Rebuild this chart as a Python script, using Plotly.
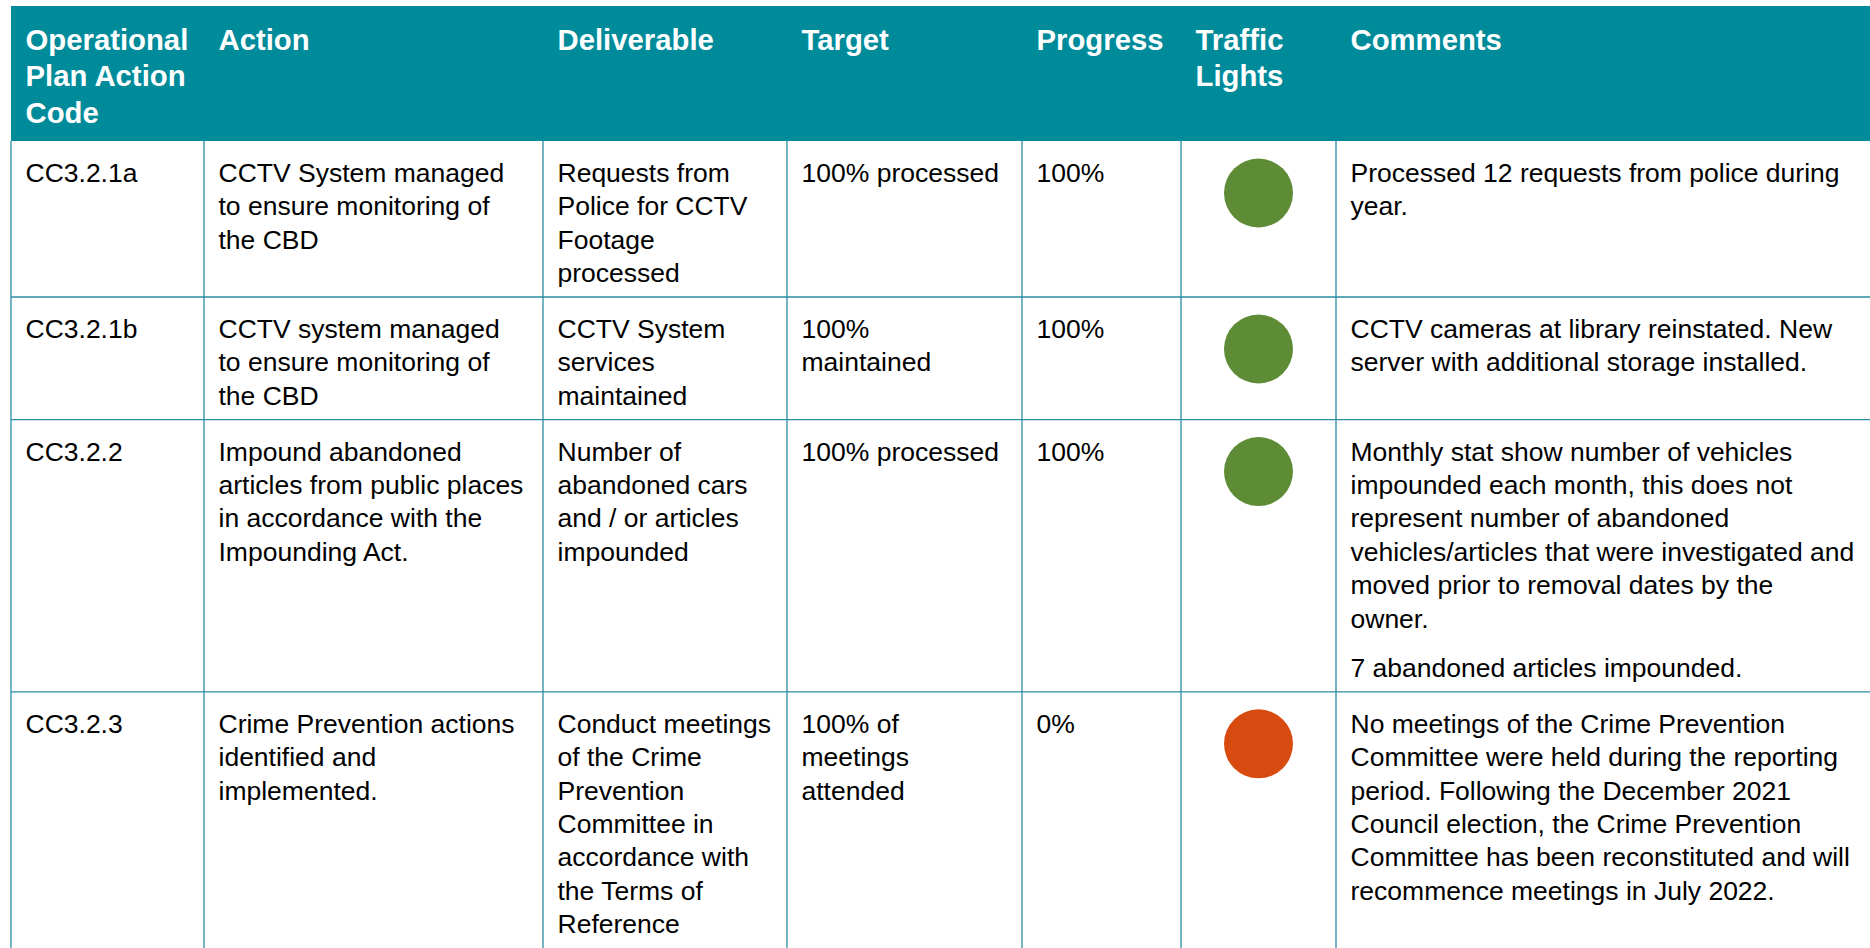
import plotly.graph_objects as go

# ---------------- data ----------------
headers = ["Operational<br>Plan Action<br>Code", "Action", "Deliverable", "Target",
           "Progress", "Traffic<br>Lights", "Comments"]
codes = ["CC3.2.1a", "CC3.2.1b", "CC3.2.2", "CC3.2.3"]
actions = [
    "CCTV System managed<br>to ensure monitoring of<br>the CBD",
    "CCTV system managed<br>to ensure monitoring of<br>the CBD",
    "Impound abandoned<br>articles from public places<br>in accordance with the<br>Impounding Act.",
    "Crime Prevention actions<br>identified and<br>implemented.",
]
deliverables = [
    "Requests from<br>Police for CCTV<br>Footage<br>processed",
    "CCTV System<br>services<br>maintained",
    "Number of<br>abandoned cars<br>and / or articles<br>impounded",
    "Conduct meetings<br>of the Crime<br>Prevention<br>Committee in<br>accordance with<br>the Terms of<br>Reference",
]
targets = ["100% processed", "100%<br>maintained", "100% processed",
           "100% of<br>meetings<br>attended"]
progress = ["100%", "100%", "100%", "0%"]
traffic = ["Green", "Green", "Green", "Red"]
# paragraphs separated by "\n", lines by "<br>"
comments = [
    "Processed 12 requests from police during<br>year.",
    "CCTV cameras at library reinstated. New<br>server with additional storage installed.",
    "Monthly stat show number of vehicles<br>impounded each month, this does not<br>represent number of abandoned<br>vehicles/articles that were investigated and<br>moved prior to removal dates by the<br>owner.\n7 abandoned articles impounded.",
    "No meetings of the Crime Prevention<br>Committee were held during the reporting<br>period. Following the December 2021<br>Council election, the Crime Prevention<br>Committee has been reconstituted and will<br>recommence meetings in July 2022.",
]

# ---------------- layout constants ----------------
W, H = 1870, 948
COL_EDGES = [11, 204, 543, 787, 1022, 1181, 1336, W]
HEAD_TOP, HEAD_BOT = 6, 141
PAD_X = 14.5
BODY_FS, HEAD_FS = 26.5, 29.3
BODY_LH, HEAD_LH = 33.4, 36.4
ROW_PAD = 22.4
PARA_GAP = 16
FIRST_BASE = 41
HEAD_BASE = 44
LIGHT_OFF = 52
TEAL = "#008b9b"
LINE = "#2a8ca2"
LIGHT_COLORS = {"Green": "#5e8c36", "Red": "#d84b10"}
FONT = "Liberation Sans, Arial, sans-serif"

text_cols = [codes, actions, deliverables, targets, progress, None, comments]


def cell_lines(s):
    """returns list of (line, n_para_gaps_before)"""
    out = []
    for pi, para in enumerate(s.split("\n")):
        for ln in para.split("<br>"):
            out.append((ln, pi))
    return out


# row heights from content
row_tops = []
y = HEAD_BOT
for r in range(len(codes)):
    nmax = 0
    for col in text_cols:
        if col is None:
            continue
        lines = cell_lines(col[r])
        h = len(lines) * BODY_LH + lines[-1][1] * PARA_GAP
        nmax = max(nmax, h)
    row_tops.append(y)
    y += ROW_PAD + nmax
row_bots = row_tops[1:] + [y]

fig = go.Figure()

shapes = []
# header band
shapes.append(dict(type="rect", xref="x", yref="y", x0=COL_EDGES[0], x1=COL_EDGES[-1],
                   y0=HEAD_TOP, y1=HEAD_BOT, fillcolor=TEAL, line=dict(width=0), layer="below"))
# vertical lines
for xe in COL_EDGES[:-1]:
    shapes.append(dict(type="line", xref="x", yref="y", x0=xe, x1=xe, y0=HEAD_BOT, y1=H + 50,
                       line=dict(color=LINE, width=1.3)))
# horizontal row lines (last row continues past the page)
for yb in row_bots[:-1]:
    shapes.append(dict(type="line", xref="x", yref="y", x0=COL_EDGES[0], x1=COL_EDGES[-1],
                       y0=yb, y1=yb, line=dict(color=LINE, width=1.3)))

# header text
hx, hy, ht = [], [], []
for c, htxt in enumerate(headers):
    for i, ln in enumerate(htxt.split("<br>")):
        hx.append(COL_EDGES[c] + PAD_X)
        hy.append(HEAD_TOP + HEAD_BASE + i * HEAD_LH - 0.75 * HEAD_FS)
        ht.append(ln)
fig.add_trace(go.Scatter(x=hx, y=hy, text=ht, mode="text", textposition="bottom right",
                         textfont=dict(family=FONT, size=HEAD_FS, color="white", weight="bold"),
                         hoverinfo="skip", showlegend=False))

# body text
bx, by, bt = [], [], []
for c, col in enumerate(text_cols):
    if col is None:
        continue
    for r, s in enumerate(col):
        for i, (ln, gaps) in enumerate(cell_lines(s)):
            bx.append(COL_EDGES[c] + PAD_X)
            by.append(row_tops[r] + FIRST_BASE + i * BODY_LH + gaps * PARA_GAP - 0.75 * BODY_FS)
            bt.append(ln)
fig.add_trace(go.Scatter(x=bx, y=by, text=bt, mode="text", textposition="bottom right",
                         textfont=dict(family=FONT, size=BODY_FS, color="black"),
                         hoverinfo="skip", showlegend=False))

# traffic lights
lx = [(COL_EDGES[5] + COL_EDGES[6]) / 2] * len(traffic)
ly = [t + LIGHT_OFF for t in row_tops]
fig.add_trace(go.Scatter(x=lx, y=ly, mode="markers",
                         marker=dict(size=69, color=[LIGHT_COLORS[t] for t in traffic],
                                     line=dict(width=0)),
                         text=traffic, hoverinfo="text", showlegend=False))

fig.update_layout(
    width=W, height=H, margin=dict(l=0, r=0, t=0, b=0),
    paper_bgcolor="white", plot_bgcolor="white",
    xaxis=dict(range=[0, W], visible=False, fixedrange=True),
    yaxis=dict(range=[H, 0], visible=False, fixedrange=True),
    shapes=shapes,
)

fig.write_html("out.html", config={"displayModeBar": False},
               post_script="document.body.style.margin='0';document.body.style.overflow='hidden';")
